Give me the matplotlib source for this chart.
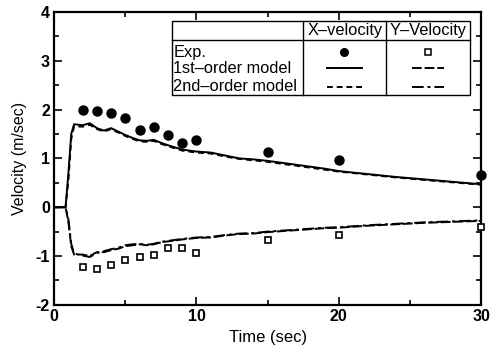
import matplotlib
matplotlib.use("Agg")
import matplotlib.pyplot as plt
from matplotlib.lines import Line2D
from matplotlib.patches import Rectangle
from matplotlib.ticker import MultipleLocator

plt.rcParams['font.family'] = ['Liberation Sans', 'DejaVu Sans']
plt.rcParams['axes.unicode_minus'] = False

# Experimental data
t_exp = [2, 3, 4, 5, 6, 7, 8, 9, 10, 15, 20, 30]
vx_exp = [2.0, 1.97, 1.93, 1.83, 1.59, 1.65, 1.47, 1.32, 1.38, 1.13, 0.96, 0.65]
vy_exp = [-1.22, -1.27, -1.18, -1.09, -1.02, -0.98, -0.83, -0.84, -0.94, -0.68, -0.57, -0.40]

# Model curves
t_model = [0, 0.8, 1.0, 1.2, 1.4, 2.0, 2.5, 3.0, 3.5, 4.0, 4.5, 5.0, 5.5, 6.0, 6.5,
           7.0, 7.5, 8.0, 9.0, 10.0, 11.0, 12.0, 13.0, 14.0, 15.0, 16.0, 17.0, 18.0,
           19.0, 20.0, 22.0, 24.0, 26.0, 28.0, 30.0]
vx_1st = [0, 0, 0.7, 1.5, 1.70, 1.68, 1.72, 1.62, 1.57, 1.62, 1.55, 1.48, 1.42, 1.37, 1.36,
          1.38, 1.32, 1.27, 1.18, 1.14, 1.12, 1.06, 1.00, 0.98, 0.95, 0.91, 0.87, 0.83,
          0.79, 0.74, 0.68, 0.62, 0.57, 0.52, 0.47]
vx_2nd = [0, 0, 0.55, 1.4, 1.66, 1.65, 1.69, 1.60, 1.55, 1.60, 1.53, 1.46, 1.40, 1.35, 1.34,
          1.36, 1.30, 1.25, 1.16, 1.12, 1.10, 1.04, 0.99, 0.96, 0.93, 0.89, 0.85, 0.81,
          0.77, 0.73, 0.67, 0.61, 0.56, 0.51, 0.46]
vy_1st = [0, 0, -0.3, -0.8, -0.97, -0.97, -1.00, -0.92, -0.92, -0.88, -0.85, -0.80, -0.78,
          -0.76, -0.78, -0.76, -0.72, -0.70, -0.66, -0.63, -0.62, -0.58, -0.55, -0.54, -0.51,
          -0.49, -0.47, -0.45, -0.43, -0.42, -0.38, -0.35, -0.32, -0.30, -0.28]
vy_2nd = [0, 0, -0.25, -0.75, -0.95, -0.99, -1.02, -0.94, -0.90, -0.86, -0.83, -0.78, -0.76,
          -0.75, -0.77, -0.75, -0.71, -0.69, -0.65, -0.62, -0.61, -0.57, -0.54, -0.53, -0.50,
          -0.48, -0.46, -0.44, -0.42, -0.41, -0.37, -0.34, -0.31, -0.29, -0.27]

header = ["X\u2013velocity", "Y\u2013Velocity"]
row_labels = ["Exp.", "1st\u2013order model", "2nd\u2013order model"]

fig = plt.figure(figsize=(4.97, 3.52), dpi=100)
ax = fig.add_axes([0.109, 0.134, 0.859, 0.832])

lw = 1.4
ax.plot(t_model, vx_1st, color='black', lw=lw, ls='-')
ax.plot(t_model, vx_2nd, color='black', lw=lw, ls=(0, (3, 2)))
ax.plot(t_model, vy_1st, color='black', lw=lw, ls=(0, (5, 1.5)))
ax.plot(t_model, vy_2nd, color='black', lw=lw, ls=(0, (6, 2, 1.5, 2)))
ax.plot(t_exp, vx_exp, 'o', color='black', ms=6.5, clip_on=False, zorder=5)
ax.plot(t_exp, vy_exp, 's', mfc='white', mec='black', mew=1.2, ms=5, clip_on=False, zorder=5)

ax.set_xlim(0, 30)
ax.set_ylim(-2, 4)
ax.xaxis.set_major_locator(MultipleLocator(10))
ax.xaxis.set_minor_locator(MultipleLocator(5))
ax.yaxis.set_major_locator(MultipleLocator(1))
ax.yaxis.set_minor_locator(MultipleLocator(0.5))
ax.tick_params(which='both', direction='in', top=True, right=True, width=1.2)
ax.tick_params(which='major', length=6, labelsize=11.5, pad=3)
ax.tick_params(which='minor', length=3.5)
for lab in ax.get_xticklabels() + ax.get_yticklabels():
    lab.set_fontweight('bold')
for sp in ax.spines.values():
    sp.set_linewidth(1.6)
ax.set_xlabel("Time (sec)", fontsize=12, labelpad=4)
ax.set_ylabel("Velocity (m/sec)", fontsize=11.5, labelpad=6)

# Legend table (axes coordinates)
L, c1, c2, R = 0.276, 0.583, 0.778, 0.974
T, H, B = 0.969, 0.904, 0.717
ax.add_patch(Rectangle((L, B), R - L, T - B, transform=ax.transAxes,
                       facecolor='white', edgecolor='black', lw=1.0, zorder=6))
kw = dict(transform=ax.transAxes, color='black', lw=1.0, zorder=7)
ax.add_line(Line2D([L, R], [H, H], **kw))
ax.add_line(Line2D([c1, c1], [B, T], **kw))
ax.add_line(Line2D([c2, c2], [B, T], **kw))
ax.text((c1 + c2) / 2, (T + H) / 2, header[0], transform=ax.transAxes,
        ha='center', va='center', fontsize=11.8, zorder=8)
ax.text((c2 + R) / 2, (T + H) / 2, header[1], transform=ax.transAxes,
        ha='center', va='center', fontsize=11.8, zorder=8)
rows_y = [0.863, 0.808, 0.745]
for y, lab in zip(rows_y, row_labels):
    ax.text(L + 0.003, y, lab, transform=ax.transAxes, ha='left', va='center',
            fontsize=11.8, zorder=8)
xs1 = [0.638, 0.720]
xs2 = [0.837, 0.913]
ax.add_line(Line2D([sum(xs1) / 2], [rows_y[0]], marker='o', ms=5.5, color='black',
                   ls='none', transform=ax.transAxes, zorder=8))
ax.add_line(Line2D([sum(xs2) / 2], [rows_y[0]], marker='s', ms=4.5, mfc='white',
                   mec='black', mew=1.1, ls='none', transform=ax.transAxes, zorder=8))
ax.add_line(Line2D(xs1, [rows_y[1]] * 2, ls='-', lw=lw, color='black',
                   transform=ax.transAxes, zorder=8))
ax.add_line(Line2D(xs2, [rows_y[1]] * 2, ls=(0, (5, 1.5)), lw=lw, color='black',
                   transform=ax.transAxes, zorder=8))
ax.add_line(Line2D(xs1, [rows_y[2]] * 2, ls=(0, (3, 2)), lw=lw, color='black',
                   transform=ax.transAxes, zorder=8))
ax.add_line(Line2D(xs2, [rows_y[2]] * 2, ls=(0, (6, 2, 1.5, 2)), lw=lw, color='black',
                   transform=ax.transAxes, zorder=8))

fig.savefig("out.png", dpi=100)
